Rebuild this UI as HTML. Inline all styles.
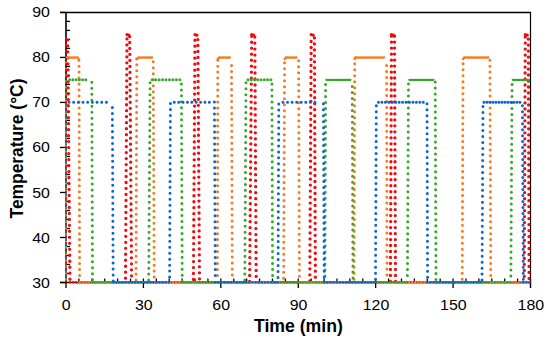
<!DOCTYPE html>
<html><head><meta charset="utf-8"><style>
html,body{margin:0;padding:0;background:#fff;}
svg{display:block;}
.tk{font-family:"Liberation Sans",sans-serif;font-size:14.6px;fill:#000;}
.ttl{font-family:"Liberation Sans",sans-serif;font-size:18.5px;font-weight:bold;fill:#000;}
</style></head><body>
<svg width="550" height="342" viewBox="0 0 550 342">
<rect width="550" height="342" fill="#fff"/>
<path d="M66.0 273.50H70.0" stroke="#000000" stroke-width="1.3"/>
<path d="M66.0 264.49H70.0" stroke="#000000" stroke-width="1.3"/>
<path d="M66.0 255.49H70.0" stroke="#000000" stroke-width="1.3"/>
<path d="M66.0 246.49H70.0" stroke="#000000" stroke-width="1.3"/>
<path d="M66.0 228.48H70.0" stroke="#000000" stroke-width="1.3"/>
<path d="M66.0 219.48H70.0" stroke="#000000" stroke-width="1.3"/>
<path d="M66.0 210.47H70.0" stroke="#000000" stroke-width="1.3"/>
<path d="M66.0 201.47H70.0" stroke="#000000" stroke-width="1.3"/>
<path d="M66.0 183.46H70.0" stroke="#000000" stroke-width="1.3"/>
<path d="M66.0 174.46H70.0" stroke="#000000" stroke-width="1.3"/>
<path d="M66.0 165.46H70.0" stroke="#000000" stroke-width="1.3"/>
<path d="M66.0 156.45H70.0" stroke="#000000" stroke-width="1.3"/>
<path d="M66.0 138.45H70.0" stroke="#000000" stroke-width="1.3"/>
<path d="M66.0 129.44H70.0" stroke="#000000" stroke-width="1.3"/>
<path d="M66.0 120.44H70.0" stroke="#000000" stroke-width="1.3"/>
<path d="M66.0 111.44H70.0" stroke="#000000" stroke-width="1.3"/>
<path d="M66.0 93.43H70.0" stroke="#000000" stroke-width="1.3"/>
<path d="M66.0 84.43H70.0" stroke="#000000" stroke-width="1.3"/>
<path d="M66.0 75.42H70.0" stroke="#000000" stroke-width="1.3"/>
<path d="M66.0 66.42H70.0" stroke="#000000" stroke-width="1.3"/>
<path d="M66.0 48.41H70.0" stroke="#000000" stroke-width="1.3"/>
<path d="M66.0 39.41H70.0" stroke="#000000" stroke-width="1.3"/>
<path d="M66.0 30.41H70.0" stroke="#000000" stroke-width="1.3"/>
<path d="M66.0 21.40H70.0" stroke="#000000" stroke-width="1.3"/>
<path d="M60.0 282.50H66.0" stroke="#000000" stroke-width="1.3"/>
<path d="M60.0 237.48H66.0" stroke="#000000" stroke-width="1.3"/>
<path d="M60.0 192.47H66.0" stroke="#000000" stroke-width="1.3"/>
<path d="M60.0 147.45H66.0" stroke="#000000" stroke-width="1.3"/>
<path d="M60.0 102.43H66.0" stroke="#000000" stroke-width="1.3"/>
<path d="M60.0 57.42H66.0" stroke="#000000" stroke-width="1.3"/>
<path d="M60.0 12.40H66.0" stroke="#000000" stroke-width="1.3"/>
<path d="M78.90 282.5V278.5" stroke="#000000" stroke-width="1.3"/>
<path d="M91.81 282.5V278.5" stroke="#000000" stroke-width="1.3"/>
<path d="M104.71 282.5V278.5" stroke="#000000" stroke-width="1.3"/>
<path d="M117.61 282.5V278.5" stroke="#000000" stroke-width="1.3"/>
<path d="M130.51 282.5V278.5" stroke="#000000" stroke-width="1.3"/>
<path d="M156.32 282.5V278.5" stroke="#000000" stroke-width="1.3"/>
<path d="M169.22 282.5V278.5" stroke="#000000" stroke-width="1.3"/>
<path d="M182.12 282.5V278.5" stroke="#000000" stroke-width="1.3"/>
<path d="M195.03 282.5V278.5" stroke="#000000" stroke-width="1.3"/>
<path d="M207.93 282.5V278.5" stroke="#000000" stroke-width="1.3"/>
<path d="M233.74 282.5V278.5" stroke="#000000" stroke-width="1.3"/>
<path d="M246.64 282.5V278.5" stroke="#000000" stroke-width="1.3"/>
<path d="M259.54 282.5V278.5" stroke="#000000" stroke-width="1.3"/>
<path d="M272.44 282.5V278.5" stroke="#000000" stroke-width="1.3"/>
<path d="M285.35 282.5V278.5" stroke="#000000" stroke-width="1.3"/>
<path d="M311.15 282.5V278.5" stroke="#000000" stroke-width="1.3"/>
<path d="M324.06 282.5V278.5" stroke="#000000" stroke-width="1.3"/>
<path d="M336.96 282.5V278.5" stroke="#000000" stroke-width="1.3"/>
<path d="M349.86 282.5V278.5" stroke="#000000" stroke-width="1.3"/>
<path d="M362.76 282.5V278.5" stroke="#000000" stroke-width="1.3"/>
<path d="M388.57 282.5V278.5" stroke="#000000" stroke-width="1.3"/>
<path d="M401.47 282.5V278.5" stroke="#000000" stroke-width="1.3"/>
<path d="M414.38 282.5V278.5" stroke="#000000" stroke-width="1.3"/>
<path d="M427.28 282.5V278.5" stroke="#000000" stroke-width="1.3"/>
<path d="M440.18 282.5V278.5" stroke="#000000" stroke-width="1.3"/>
<path d="M465.99 282.5V278.5" stroke="#000000" stroke-width="1.3"/>
<path d="M478.89 282.5V278.5" stroke="#000000" stroke-width="1.3"/>
<path d="M491.79 282.5V278.5" stroke="#000000" stroke-width="1.3"/>
<path d="M504.69 282.5V278.5" stroke="#000000" stroke-width="1.3"/>
<path d="M517.60 282.5V278.5" stroke="#000000" stroke-width="1.3"/>
<path d="M66.00 278.5V288.0" stroke="#000000" stroke-width="1.3"/>
<path d="M143.42 278.5V288.0" stroke="#000000" stroke-width="1.3"/>
<path d="M220.83 278.5V288.0" stroke="#000000" stroke-width="1.3"/>
<path d="M298.25 278.5V288.0" stroke="#000000" stroke-width="1.3"/>
<path d="M375.67 278.5V288.0" stroke="#000000" stroke-width="1.3"/>
<path d="M453.08 278.5V288.0" stroke="#000000" stroke-width="1.3"/>
<path d="M530.50 278.5V288.0" stroke="#000000" stroke-width="1.3"/>
<path d="M66.0 282.5V12.4" stroke="#000000" stroke-width="1.6"/>
<path d="M60.0 12.4H531.1" stroke="#000000" stroke-width="1.5"/>
<path d="M530.5 12.4V288.0" stroke="#000000" stroke-width="1.2"/>
<path d="M60.0 282.5H531" stroke="#000000" stroke-width="1.5"/>
<path d="M66 282.20V34.90" stroke="#F00A0F" stroke-width="2" stroke-dasharray="1.6 4.8" stroke-dashoffset="-0.00" fill="none"/>
<path d="M66 282.20V57.50" stroke="#F67A1E" stroke-width="2" stroke-dasharray="1.6 4.8" stroke-dashoffset="-1.60" fill="none"/>
<path d="M66 282.20V79.80" stroke="#32AA28" stroke-width="2" stroke-dasharray="1.6 4.8" stroke-dashoffset="-3.20" fill="none"/>
<path d="M66 282.20V102.30" stroke="#0C64D4" stroke-width="2" stroke-dasharray="1.6 4.8" stroke-dashoffset="-4.80" fill="none"/>
<path d="M69.97 279.20L67.60 35.50" stroke="#F00A0F" stroke-width="3.3" stroke-linecap="round" stroke-dasharray="0 5.982" fill="none"/>
<path d="M70.00 282.20L125.50 282.20" stroke="#F00A0F" stroke-width="2.6" stroke-linecap="round" stroke-dasharray="0 3.1" fill="none"/>
<path d="M125.52 278.20L127.00 35.70" stroke="#F00A0F" stroke-width="3.3" stroke-linecap="round" stroke-dasharray="0 5.982" fill="none"/>
<path d="M127.00 34.60L129.70 35.50" stroke="#F00A0F" stroke-width="3.3" stroke-linecap="round" stroke-dasharray="0 2.0" fill="none"/>
<path d="M131.55 275.80L129.70 35.70" stroke="#F00A0F" stroke-width="3.3" stroke-linecap="round" stroke-dasharray="0 5.982" fill="none"/>
<path d="M131.60 282.20L193.40 282.20" stroke="#F00A0F" stroke-width="2.6" stroke-linecap="round" stroke-dasharray="0 3.1" fill="none"/>
<path d="M193.42 279.50L195.00 35.70" stroke="#F00A0F" stroke-width="3.3" stroke-linecap="round" stroke-dasharray="0 5.982" fill="none"/>
<path d="M195.00 34.60L197.80 35.50" stroke="#F00A0F" stroke-width="3.3" stroke-linecap="round" stroke-dasharray="0 2.0" fill="none"/>
<path d="M199.48 278.80L197.80 35.70" stroke="#F00A0F" stroke-width="3.3" stroke-linecap="round" stroke-dasharray="0 5.982" fill="none"/>
<path d="M199.50 282.20L249.60 282.20" stroke="#F00A0F" stroke-width="2.6" stroke-linecap="round" stroke-dasharray="0 3.1" fill="none"/>
<path d="M249.61 281.50L251.70 35.70" stroke="#F00A0F" stroke-width="3.3" stroke-linecap="round" stroke-dasharray="0 5.982" fill="none"/>
<path d="M251.70 34.60L254.80 35.50" stroke="#F00A0F" stroke-width="3.3" stroke-linecap="round" stroke-dasharray="0 2.0" fill="none"/>
<path d="M256.17 276.40L254.80 35.70" stroke="#F00A0F" stroke-width="3.3" stroke-linecap="round" stroke-dasharray="0 5.982" fill="none"/>
<path d="M256.20 282.20L309.80 282.20" stroke="#F00A0F" stroke-width="2.6" stroke-linecap="round" stroke-dasharray="0 3.1" fill="none"/>
<path d="M309.81 280.80L311.20 35.70" stroke="#F00A0F" stroke-width="3.3" stroke-linecap="round" stroke-dasharray="0 5.982" fill="none"/>
<path d="M311.20 34.60L314.40 35.50" stroke="#F00A0F" stroke-width="3.3" stroke-linecap="round" stroke-dasharray="0 2.0" fill="none"/>
<path d="M315.38 277.20L314.40 35.70" stroke="#F00A0F" stroke-width="3.3" stroke-linecap="round" stroke-dasharray="0 5.982" fill="none"/>
<path d="M315.40 282.20L390.40 282.20" stroke="#F00A0F" stroke-width="2.6" stroke-linecap="round" stroke-dasharray="0 3.1" fill="none"/>
<path d="M390.40 281.40L391.50 35.70" stroke="#F00A0F" stroke-width="3.3" stroke-linecap="round" stroke-dasharray="0 5.982" fill="none"/>
<path d="M391.50 34.60L394.50 35.50" stroke="#F00A0F" stroke-width="3.3" stroke-linecap="round" stroke-dasharray="0 2.0" fill="none"/>
<path d="M395.50 281.40L394.50 35.70" stroke="#F00A0F" stroke-width="3.3" stroke-linecap="round" stroke-dasharray="0 5.982" fill="none"/>
<path d="M395.50 282.20L524.20 282.20" stroke="#F00A0F" stroke-width="2.6" stroke-linecap="round" stroke-dasharray="0 3.1" fill="none"/>
<path d="M524.23 276.40L525.30 35.70" stroke="#F00A0F" stroke-width="3.3" stroke-linecap="round" stroke-dasharray="0 5.982" fill="none"/>
<path d="M525.30 34.60L528.30 35.50" stroke="#F00A0F" stroke-width="3.3" stroke-linecap="round" stroke-dasharray="0 2.0" fill="none"/>
<path d="M529.09 278.40L528.30 35.70" stroke="#F00A0F" stroke-width="3.3" stroke-linecap="round" stroke-dasharray="0 5.982" fill="none"/>
<path d="M529.10 282.20L530.00 282.20" stroke="#F00A0F" stroke-width="2.6" stroke-linecap="round" stroke-dasharray="0 3.1" fill="none"/>
<path d="M67.00 57.50L77.50 57.50" stroke="#F67A1E" stroke-width="2.3" stroke-linecap="round" stroke-dasharray="0 1.5" fill="none"/>
<path d="M77.50 57.50L79.00 59.50" stroke="#F67A1E" stroke-width="2.5" stroke-linecap="round" stroke-dasharray="0 1.5" fill="none"/>
<path d="M79.58 275.50L79.00 60.00" stroke="#F67A1E" stroke-width="3.0" stroke-linecap="round" stroke-dasharray="0 5.982" fill="none"/>
<path d="M79.60 282.20L136.00 282.20" stroke="#F67A1E" stroke-width="2.6" stroke-linecap="round" stroke-dasharray="0 3.1" fill="none"/>
<path d="M136.01 280.10L136.80 58.70" stroke="#F67A1E" stroke-width="3.0" stroke-linecap="round" stroke-dasharray="0 5.982" fill="none"/>
<path d="M136.80 59.10L138.60 57.50" stroke="#F67A1E" stroke-width="2.5" stroke-linecap="round" stroke-dasharray="0 1.4" fill="none"/>
<path d="M138.60 57.50L152.60 57.50" stroke="#F67A1E" stroke-width="2.3" stroke-linecap="round" stroke-dasharray="0 1.5" fill="none"/>
<path d="M154.18 277.10L153.20 59.90" stroke="#F67A1E" stroke-width="3.0" stroke-linecap="round" stroke-dasharray="0 5.982" fill="none"/>
<path d="M154.20 282.20L217.40 282.20" stroke="#F67A1E" stroke-width="2.6" stroke-linecap="round" stroke-dasharray="0 3.1" fill="none"/>
<path d="M217.41 275.50L217.80 58.70" stroke="#F67A1E" stroke-width="3.0" stroke-linecap="round" stroke-dasharray="0 5.982" fill="none"/>
<path d="M217.80 59.10L219.40 57.50" stroke="#F67A1E" stroke-width="2.5" stroke-linecap="round" stroke-dasharray="0 1.4" fill="none"/>
<path d="M219.40 57.50L230.40 57.50" stroke="#F67A1E" stroke-width="2.3" stroke-linecap="round" stroke-dasharray="0 1.5" fill="none"/>
<path d="M232.27 274.90L231.50 59.90" stroke="#F67A1E" stroke-width="3.0" stroke-linecap="round" stroke-dasharray="0 5.982" fill="none"/>
<path d="M232.30 282.20L283.60 282.20" stroke="#F67A1E" stroke-width="2.6" stroke-linecap="round" stroke-dasharray="0 3.1" fill="none"/>
<path d="M283.62 278.20L284.60 58.70" stroke="#F67A1E" stroke-width="3.0" stroke-linecap="round" stroke-dasharray="0 5.982" fill="none"/>
<path d="M284.60 59.10L286.00 57.50" stroke="#F67A1E" stroke-width="2.5" stroke-linecap="round" stroke-dasharray="0 1.4" fill="none"/>
<path d="M286.00 57.50L297.40 57.50" stroke="#F67A1E" stroke-width="2.3" stroke-linecap="round" stroke-dasharray="0 1.5" fill="none"/>
<path d="M299.38 276.20L298.60 59.90" stroke="#F67A1E" stroke-width="3.0" stroke-linecap="round" stroke-dasharray="0 5.982" fill="none"/>
<path d="M299.40 282.20L354.00 282.20" stroke="#F67A1E" stroke-width="2.6" stroke-linecap="round" stroke-dasharray="0 3.1" fill="none"/>
<path d="M354.01 279.20L354.70 58.70" stroke="#F67A1E" stroke-width="3.0" stroke-linecap="round" stroke-dasharray="0 5.982" fill="none"/>
<path d="M354.70 59.10L355.50 57.50" stroke="#F67A1E" stroke-width="2.5" stroke-linecap="round" stroke-dasharray="0 1.4" fill="none"/>
<path d="M355.50 57.50L385.40 57.50" stroke="#F67A1E" stroke-width="2.3" stroke-linecap="round" stroke-dasharray="0 1.5" fill="none"/>
<path d="M386.99 274.90L386.60 59.90" stroke="#F67A1E" stroke-width="3.0" stroke-linecap="round" stroke-dasharray="0 5.982" fill="none"/>
<path d="M387.00 282.20L462.20 282.20" stroke="#F67A1E" stroke-width="2.6" stroke-linecap="round" stroke-dasharray="0 3.1" fill="none"/>
<path d="M462.21 279.20L463.10 58.70" stroke="#F67A1E" stroke-width="3.0" stroke-linecap="round" stroke-dasharray="0 5.982" fill="none"/>
<path d="M463.10 59.10L464.30 57.50" stroke="#F67A1E" stroke-width="2.5" stroke-linecap="round" stroke-dasharray="0 1.4" fill="none"/>
<path d="M464.30 57.50L488.80 57.50" stroke="#F67A1E" stroke-width="2.3" stroke-linecap="round" stroke-dasharray="0 1.5" fill="none"/>
<path d="M490.77 275.50L489.90 59.90" stroke="#F67A1E" stroke-width="3.0" stroke-linecap="round" stroke-dasharray="0 5.982" fill="none"/>
<path d="M490.80 282.20L530.00 282.20" stroke="#F67A1E" stroke-width="2.6" stroke-linecap="round" stroke-dasharray="0 3.1" fill="none"/>
<path d="M69.60 79.80L89.10 79.80" stroke="#32AA28" stroke-width="3.0" stroke-linecap="round" stroke-dasharray="0 3.25" fill="none"/>
<path d="M92.49 279.70L91.80 81.90" stroke="#32AA28" stroke-width="3.0" stroke-linecap="round" stroke-dasharray="0 5.982" fill="none"/>
<path d="M92.50 282.20L148.70 282.20" stroke="#32AA28" stroke-width="2.6" stroke-linecap="round" stroke-dasharray="0 3.1" fill="none"/>
<path d="M148.71 280.10L150.10 80.80" stroke="#32AA28" stroke-width="3.0" stroke-linecap="round" stroke-dasharray="0 5.982" fill="none"/>
<path d="M152.20 79.80L179.80 79.80" stroke="#32AA28" stroke-width="3.0" stroke-linecap="round" stroke-dasharray="0 3.45" fill="none"/>
<path d="M182.20 281.30L181.40 82.80" stroke="#32AA28" stroke-width="3.0" stroke-linecap="round" stroke-dasharray="0 5.982" fill="none"/>
<path d="M182.20 282.20L244.80 282.20" stroke="#32AA28" stroke-width="2.6" stroke-linecap="round" stroke-dasharray="0 3.1" fill="none"/>
<path d="M244.81 280.10L246.00 80.80" stroke="#32AA28" stroke-width="3.0" stroke-linecap="round" stroke-dasharray="0 5.982" fill="none"/>
<path d="M248.00 79.80L270.90 79.80" stroke="#32AA28" stroke-width="3.0" stroke-linecap="round" stroke-dasharray="0 3.27" fill="none"/>
<path d="M272.58 275.50L271.90 82.80" stroke="#32AA28" stroke-width="3.0" stroke-linecap="round" stroke-dasharray="0 5.982" fill="none"/>
<path d="M272.60 282.20L324.90 282.20" stroke="#32AA28" stroke-width="2.6" stroke-linecap="round" stroke-dasharray="0 3.1" fill="none"/>
<path d="M324.92 276.00L325.60 80.80" stroke="#32AA28" stroke-width="3.0" stroke-linecap="round" stroke-dasharray="0 5.982" fill="none"/>
<path d="M326.40 79.80L351.20 79.80" stroke="#32AA28" stroke-width="2.3" stroke-linecap="round" stroke-dasharray="0 1.5" fill="none"/>
<path d="M352.98 277.90L352.20 81.30" stroke="#32AA28" stroke-width="3.0" stroke-linecap="round" stroke-dasharray="0 5.982" fill="none"/>
<path d="M353.00 282.20L407.40 282.20" stroke="#32AA28" stroke-width="2.6" stroke-linecap="round" stroke-dasharray="0 3.1" fill="none"/>
<path d="M407.44 275.50L408.50 80.80" stroke="#32AA28" stroke-width="3.0" stroke-linecap="round" stroke-dasharray="0 5.982" fill="none"/>
<path d="M409.40 79.80L434.20 79.80" stroke="#32AA28" stroke-width="2.3" stroke-linecap="round" stroke-dasharray="0 1.5" fill="none"/>
<path d="M435.99 279.50L435.20 81.30" stroke="#32AA28" stroke-width="3.0" stroke-linecap="round" stroke-dasharray="0 5.982" fill="none"/>
<path d="M436.00 282.20L510.80 282.20" stroke="#32AA28" stroke-width="2.6" stroke-linecap="round" stroke-dasharray="0 3.1" fill="none"/>
<path d="M510.84 275.90L512.10 81.40" stroke="#32AA28" stroke-width="3.0" stroke-linecap="round" stroke-dasharray="0 5.982" fill="none"/>
<path d="M512.80 79.80L530.00 79.80" stroke="#32AA28" stroke-width="2.3" stroke-linecap="round" stroke-dasharray="0 1.5" fill="none"/>
<path d="M69.00 102.30L111.10 102.30" stroke="#0C64D4" stroke-width="3.0" stroke-linecap="round" stroke-dasharray="0 4.678" fill="none"/>
<path d="M113.19 281.00L112.30 101.70" stroke="#0C64D4" stroke-width="3.0" stroke-linecap="round" stroke-dasharray="0 5.982" fill="none"/>
<path d="M113.20 282.20L169.60 282.20" stroke="#0C64D4" stroke-width="2.6" stroke-linecap="round" stroke-dasharray="0 3.1" fill="none"/>
<path d="M169.62 277.10L170.40 103.30" stroke="#0C64D4" stroke-width="3.0" stroke-linecap="round" stroke-dasharray="0 5.982" fill="none"/>
<path d="M174.30 102.30L213.70 102.30" stroke="#0C64D4" stroke-width="3.0" stroke-linecap="round" stroke-dasharray="0 4.378" fill="none"/>
<path d="M215.27 275.50L214.40 101.70" stroke="#0C64D4" stroke-width="3.0" stroke-linecap="round" stroke-dasharray="0 5.982" fill="none"/>
<path d="M215.30 282.20L278.00 282.20" stroke="#0C64D4" stroke-width="2.6" stroke-linecap="round" stroke-dasharray="0 3.1" fill="none"/>
<path d="M278.02 277.50L278.80 103.30" stroke="#0C64D4" stroke-width="3.0" stroke-linecap="round" stroke-dasharray="0 5.982" fill="none"/>
<path d="M283.00 102.30L319.50 102.30" stroke="#0C64D4" stroke-width="3.0" stroke-linecap="round" stroke-dasharray="0 4.5625" fill="none"/>
<path d="M324.18 277.20L323.40 101.70" stroke="#0C64D4" stroke-width="3.0" stroke-linecap="round" stroke-dasharray="0 5.982" fill="none"/>
<path d="M324.20 282.20L375.50 282.20" stroke="#0C64D4" stroke-width="2.6" stroke-linecap="round" stroke-dasharray="0 3.1" fill="none"/>
<path d="M375.51 279.20L376.30 103.30" stroke="#0C64D4" stroke-width="3.0" stroke-linecap="round" stroke-dasharray="0 5.982" fill="none"/>
<path d="M378.50 102.30L423.30 102.30" stroke="#0C64D4" stroke-width="3.0" stroke-linecap="round" stroke-dasharray="0 3.446" fill="none"/>
<path d="M427.58 277.20L427.00 101.70" stroke="#0C64D4" stroke-width="3.0" stroke-linecap="round" stroke-dasharray="0 5.982" fill="none"/>
<path d="M427.60 282.20L482.00 282.20" stroke="#0C64D4" stroke-width="2.6" stroke-linecap="round" stroke-dasharray="0 3.1" fill="none"/>
<path d="M482.01 280.10L483.00 103.30" stroke="#0C64D4" stroke-width="3.0" stroke-linecap="round" stroke-dasharray="0 5.982" fill="none"/>
<path d="M483.90 102.30L520.70 102.30" stroke="#0C64D4" stroke-width="3.0" stroke-linecap="round" stroke-dasharray="0 3.0" fill="none"/>
<path d="M523.29 279.20L522.40 101.70" stroke="#0C64D4" stroke-width="3.0" stroke-linecap="round" stroke-dasharray="0 5.982" fill="none"/>
<path d="M523.30 282.20L530.00 282.20" stroke="#0C64D4" stroke-width="2.6" stroke-linecap="round" stroke-dasharray="0 3.1" fill="none"/>
<text transform="translate(49.9 287.54) scale(1.09 1)" text-anchor="end" class="tk">30</text>
<text transform="translate(49.9 242.52) scale(1.09 1)" text-anchor="end" class="tk">40</text>
<text transform="translate(49.9 197.51) scale(1.09 1)" text-anchor="end" class="tk">50</text>
<text transform="translate(49.9 152.49) scale(1.09 1)" text-anchor="end" class="tk">60</text>
<text transform="translate(49.9 107.47) scale(1.09 1)" text-anchor="end" class="tk">70</text>
<text transform="translate(49.9 62.46) scale(1.09 1)" text-anchor="end" class="tk">80</text>
<text transform="translate(49.9 17.44) scale(1.09 1)" text-anchor="end" class="tk">90</text>
<text transform="translate(66.30 310.14) scale(1.09 1)" text-anchor="middle" class="tk">0</text>
<text transform="translate(143.72 310.14) scale(1.09 1)" text-anchor="middle" class="tk">30</text>
<text transform="translate(221.13 310.14) scale(1.09 1)" text-anchor="middle" class="tk">60</text>
<text transform="translate(298.55 310.14) scale(1.09 1)" text-anchor="middle" class="tk">90</text>
<text transform="translate(375.97 310.14) scale(1.09 1)" text-anchor="middle" class="tk">120</text>
<text transform="translate(453.38 310.14) scale(1.09 1)" text-anchor="middle" class="tk">150</text>
<text transform="translate(530.80 310.14) scale(1.09 1)" text-anchor="middle" class="tk">180</text>
<text transform="translate(298.4 332) scale(0.955 1)" text-anchor="middle" class="ttl">Time (min)</text>
<text transform="translate(22.8 148.5) rotate(-90) scale(0.94 1)" text-anchor="middle" class="ttl">Temperature (°C)</text>
</svg>
</body></html>
